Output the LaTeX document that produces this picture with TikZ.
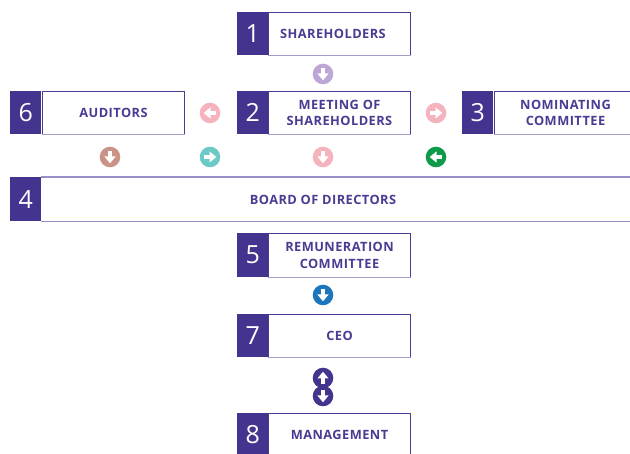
\documentclass[tikz,border=0pt]{standalone}
\usepackage{fontspec}
\setmainfont{Open Sans}
\newfontfamily\lblfamily[LetterSpace=3.5]{Open Sans}
\newfontfamily\numfamily{Open Sans}
\definecolor{numc}{HTML}{45348F}
\definecolor{boxc}{HTML}{4B3A94}
\definecolor{txtc}{HTML}{4A3C93}
\definecolor{botc}{HTML}{A79CCB}
\definecolor{linec}{HTML}{9A8EC6}
\definecolor{lav}{HTML}{BCA6D6}
\definecolor{pinkc}{HTML}{F5B3BD}
\definecolor{brownc}{HTML}{C99487}
\definecolor{tealc}{HTML}{6DC9C6}
\definecolor{greenc}{HTML}{0F9A4A}
\definecolor{bluec}{HTML}{1D75BC}
\begin{document}
\begin{tikzpicture}[x=1pt,y=-1pt,
  numbox/.style={fill=numc, text=white, minimum width=31pt, minimum height=43pt, inner sep=0pt,
    font=\numfamily\fontsize{25}{25}\selectfont, anchor=north west},
  txtbox/.style={draw=boxc, line width=1pt, minimum width=142pt, minimum height=43pt, inner sep=0pt,
    align=center, font=\lblfamily\bfseries\fontsize{12.8}{16.5}\selectfont, text=txtc, anchor=north west},
  plain/.style={inner sep=0pt, align=center, font=\lblfamily\bfseries\fontsize{12.8}{16.5}\selectfont, text=txtc},
  botline/.style={draw=botc, line width=1pt},
  boardline/.style={draw=linec, line width=1.2pt},
  pics/arrowicon/.style={code={
    \fill[#1] (0,0) circle (10.3);
    \fill[white] (-1.7,-6.3) rectangle (1.7,0.5);
    \fill[white] (-5.6,-0.5) -- (5.6,-0.5) -- (0,6.3) -- cycle;
  }},
  pics/arrowhead/.style={code={
    \fill[white] (-1.7,-6.3) rectangle (1.7,0.5);
    \fill[white] (-5.6,-0.5) -- (5.6,-0.5) -- (0,6.3) -- cycle;
  }}
]
\useasboundingbox (0,0) rectangle (630,454);
\fill[white] (0,0) rectangle (630,454);

% 1 Shareholders
\node[numbox] (n1) at (237,12) {1};
\node[txtbox] (t1) at (268,12) {SHAREHOLDERS\hspace*{13pt}};
\draw[botline] (t1.south west) -- (t1.south east);

% 2 Meeting
\node[numbox] (n2) at (237,91) {2};
\node[txtbox] (t2) at (268,91) {MEETING OF\\SHAREHOLDERS};
\draw[botline] (t2.south west) -- (t2.south east);

% 6 Auditors
\node[numbox] (n6) at (10,91) {6};
\node[txtbox] (t6) at (42,91) {AUDITORS};
\draw[botline] (t6.south west) -- (t6.south east);

% 3 Nominating
\node[numbox] (n3) at (462,91) {3};
\node[txtbox] (t3) at (494,91) {NOMINATING\\COMMITTEE};
\draw[botline] (t3.south west) -- (t3.south east);

% 4 Board
\node[numbox, minimum height=44pt] (n4) at (10,177) {4};
\coordinate (b4e) at (640,177);
\draw[boardline] (n4.north east) -- (b4e);
\draw[boardline] (n4.south east) -- (n4.south east -| b4e);
\node[plain] (t4) at (323,200) {BOARD OF DIRECTORS};

% 5 Remuneration
\node[numbox, minimum height=44pt] (n5) at (237,233) {5};
\node[txtbox, minimum height=44pt] (t5) at (268,233) {REMUNERATION\\COMMITTEE};
\draw[botline] (t5.south west) -- (t5.south east);

% 7 CEO
\node[numbox] (n7) at (237,314) {7};
\node[txtbox] (t7) at (268,314) {CEO};
\draw[botline] (t7.south west) -- (t7.south east);

% 8 Management
\node[numbox] (n8) at (237,413) {8};
\node[txtbox] (t8) at (268,413) {MANAGEMENT};

% arrow icons
\pic (a1) at (323,74) {arrowicon=lav};
\pic[rotate=-90] (a2) at (210,113) {arrowicon=pinkc};
\pic[rotate=90] (a3) at (436,113) {arrowicon=pinkc};
\pic (a4) at (110,157) {arrowicon=brownc};
\pic[rotate=90] (a5) at (210,157) {arrowicon=tealc};
\pic (a6) at (323,157) {arrowicon=pinkc};
\pic[rotate=-90] (a7) at (436,157) {arrowicon=greenc};
\pic (a8) at (323,295) {arrowicon=bluec};
% double arrow
\fill[numc] (323,378) circle (10.3);
\fill[numc] (323,396) circle (10.3);
\pic[rotate=180] (a9) at (323,378) {arrowhead};
\pic (a10) at (323,396) {arrowhead};
\end{tikzpicture}
\end{document}
